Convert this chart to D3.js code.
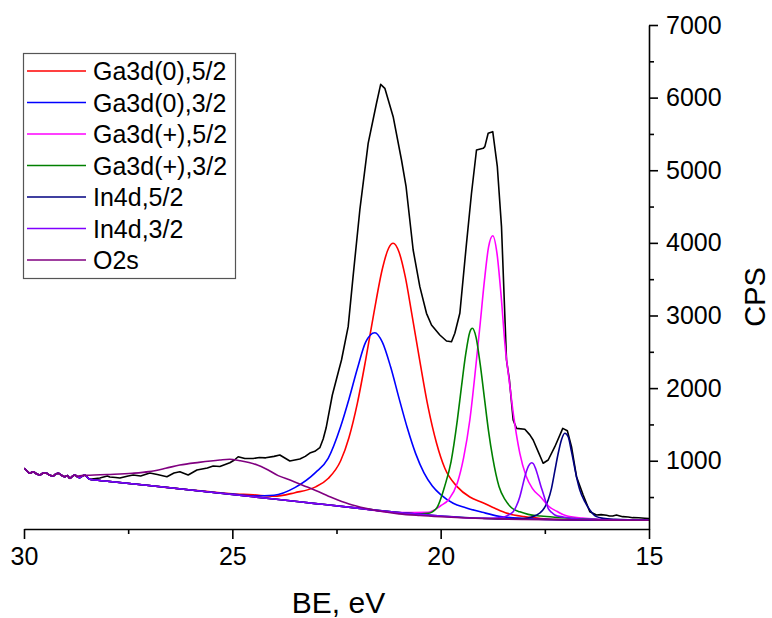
<!DOCTYPE html>
<html>
<head>
<meta charset="utf-8">
<script src="https://cdn.jsdelivr.net/npm/d3@7"></script>
<style>
  html, body { margin: 0; padding: 0; background: #fff; }
  svg { display: block; font-family: "Liberation Sans", Arial, sans-serif; }
</style>
</head>
<body>
<svg id="chart" width="772" height="618"></svg>
<script>
// ---------- data ----------
const xTicks = [30, 25, 20, 15];
const xMinorTicks = [27.5, 22.5, 17.5];
const yTicks = [1000, 2000, 3000, 4000, 5000, 6000, 7000];
const yMinorTicks = [500, 1500, 2500, 3500, 4500, 5500, 6500];

const seriesNames = ["Ga3d(0),5/2", "Ga3d(0),3/2", "Ga3d(+),5/2", "Ga3d(+),3/2", "In4d,5/2", "In4d,3/2", "O2s"];
const seriesColors = ["#ff0000", "#0000ff", "#ff00ff", "#008000", "#000080", "#8000ff", "#800080"];

// noisy lead-in shared by the measurement and all fitted curves
const leadBE  = [30.0, 29.93, 29.86, 29.78, 29.70, 29.62, 29.54, 29.46, 29.38, 29.30, 29.24, 29.18, 29.10, 29.02, 28.96, 28.90, 28.84, 28.78, 28.72, 28.66, 28.60, 28.54, 28.48, 28.42];
const leadCPS = [896, 860, 827, 849, 820, 804, 830, 827, 800, 790, 815, 827, 800, 780, 795, 758, 785, 804, 780, 767, 790, 804, 770, 744];

// background
const bgBE  = [28.0, 27, 26, 25, 24, 23, 22, 21, 20, 19, 18, 17, 16, 15];
const bgCPS = [718, 659, 597, 535, 473, 410, 347, 285, 240, 207, 192, 185, 182, 181];

// measured spectrum (black)
const dataBE = [28.18, 28.0, 27.94, 27.8, 27.7, 27.5, 27.38, 27.2, 26.98, 26.8,
  26.57, 26.4, 26.26, 26.06, 25.85, 25.6, 25.46, 25.3, 25.06, 24.95,
  24.86, 24.7, 24.5, 24.35, 24.2, 24.0, 23.86, 23.72, 23.62, 23.5,
  23.38, 23.25, 23.14, 23.02, 22.9, 22.82, 22.75, 22.6, 22.45, 22.38,
  22.22, 22.1, 21.94, 21.74, 21.54, 21.44, 21.34, 21.14, 20.94, 20.83,
  20.66, 20.5, 20.34, 20.22, 20.02, 19.86, 19.74, 19.66, 19.54, 19.38,
  19.26, 19.14, 18.98, 18.94, 18.86, 18.75, 18.64, 18.54, 18.42, 18.35,
  18.26, 18.18, 17.98, 17.86, 17.78, 17.66, 17.54, 17.42, 17.26, 17.07,
  16.96, 16.86, 16.74, 16.58, 16.42, 16.26, 16.15, 16.02, 15.95, 15.87,
  15.78, 15.7, 15.63, 15.5, 15.39, 15.25, 15.1, 15.0];
const dataCPS = [762, 790, 776, 770, 762, 790, 803, 790, 831, 810,
  780, 830, 849, 803, 872, 900, 927, 920, 973, 1010,
  1055, 1030, 1030, 1045, 1040, 1060, 1079, 1030, 996, 1010,
  1024, 1060, 1106, 1130, 1180, 1300, 1450, 1905, 2236, 2387,
  2846, 3550, 4453, 5371, 5922, 6183, 6128, 5737, 5141, 4773,
  3902, 3397, 3030, 2869, 2731, 2649, 2639, 2755, 3030, 3994,
  4683, 5279, 5302, 5325, 5509, 5531, 5049, 4223, 2387, 2112,
  1561, 1446, 1433, 1356, 1286, 1125, 965, 1010, 1193, 1446,
  1413, 1193, 780, 528, 298, 253, 258, 250, 240, 238,
  252, 240, 230, 226, 216, 214, 208, 205];

// fitted components (total counts incl. background, where they rise above it)
const ga0_52BE  = [25.0, 24.5, 24.0, 23.5, 23.0, 22.7, 22.4, 22.2, 22.0, 21.8, 21.6, 21.4, 21.25, 21.14, 21.0, 20.85, 20.7, 20.5, 20.3, 20.1, 19.9, 19.6, 19.3, 19.0, 18.7, 18.4, 18.0, 17.6, 17.0];
const ga0_52CPS = [545, 530, 510, 560, 640, 755, 1000, 1321, 1790, 2389, 3042, 3640, 3926, 3994, 3874, 3534, 3047, 2372, 1734, 1244, 896, 640, 500, 425, 345, 275, 230, 205, 188];

const ga0_32BE  = [25.5, 25.0, 24.5, 24.0, 23.5, 23.0, 22.7, 22.4, 22.2, 22.0, 21.8, 21.58, 21.4, 21.2, 21.0, 20.8, 20.6, 20.4, 20.2, 20.0, 19.7, 19.4, 19.0, 18.6, 18.0, 17.5, 17.0];
const ga0_32CPS = [566, 540, 515, 525, 630, 840, 1033, 1471, 1850, 2266, 2633, 2763, 2633, 2290, 1862, 1450, 1098, 833, 652, 533, 415, 354, 290, 235, 205, 192, 186];

const gaP_52BE  = [20.3, 20.0, 19.8, 19.6, 19.45, 19.3, 19.15, 19.05, 18.95, 18.85, 18.75, 18.65, 18.55, 18.45, 18.35, 18.25, 18.1, 17.95, 17.8, 17.6, 17.4, 17.2, 17.0, 16.6, 16.2, 15.6];
const gaP_52CPS = [290, 380, 470, 694, 1040, 1561, 2335, 2897, 3479, 3945, 4099, 3863, 3277, 2560, 2080, 1620, 1102, 790, 620, 500, 370, 300, 245, 210, 195, 185];

const gaP_32BE  = [20.6, 20.3, 20.1, 19.9, 19.75, 19.6, 19.5, 19.4, 19.3, 19.24, 19.15, 19.05, 18.95, 18.85, 18.75, 18.6, 18.45, 18.3, 18.1, 17.9, 17.6, 17.2, 16.8, 16.3];
const gaP_32CPS = [267, 275, 345, 654, 989, 1558, 2024, 2464, 2774, 2824, 2698, 2322, 1863, 1405, 1038, 645, 460, 353, 296, 261, 239, 220, 205, 192];

const in_52BE  = [18.4, 18.0, 17.82, 17.62, 17.5, 17.42, 17.34, 17.26, 17.18, 17.1, 17.02, 16.94, 16.86, 16.74, 16.66, 16.54, 16.42, 16.26, 16.10, 15.8, 15.4];
const in_52CPS = [198, 205, 225, 280, 360, 460, 620, 860, 1100, 1290, 1378, 1331, 1125, 780, 597, 436, 322, 230, 207, 192, 185];

const in_32BE  = [18.8, 18.6, 18.46, 18.35, 18.26, 18.18, 18.10, 18.04, 17.98, 17.92, 17.86, 17.82, 17.78, 17.72, 17.66, 17.6, 17.54, 17.48, 17.42, 17.34, 17.26, 17.06, 16.8, 16.4, 16.0];
const in_32CPS = [208, 215, 230, 260, 298, 380, 505, 640, 780, 890, 955, 973, 962, 890, 780, 660, 551, 440, 345, 290, 253, 225, 205, 192, 186];

const o2sBE  = [28.7, 28.42, 28.0, 27.4, 27.0, 26.6, 26.26, 25.8, 25.3, 25.06, 24.82, 24.6, 24.4, 24.2, 23.9, 23.6, 23.3, 23.0, 22.6, 22.2, 21.8, 21.4, 21.0, 20.5, 20.0, 19.5, 19.0, 18.0];
const o2sCPS = [790, 800, 810, 827, 850, 896, 941, 978, 1010, 1020, 1000, 975, 940, 890, 795, 730, 660, 590, 490, 405, 345, 300, 268, 245, 228, 214, 204, 192];

const componentBE  = [ga0_52BE, ga0_32BE, gaP_52BE, gaP_32BE, in_52BE, in_32BE, o2sBE];
const componentCPS = [ga0_52CPS, ga0_32CPS, gaP_52CPS, gaP_32CPS, in_52CPS, in_32CPS, o2sCPS];

// ---------- layout ----------
const svg = d3.select("#chart");
const mLeft = 24, mRight = 649, mTop = 25, mBottom = 529;

const x = d3.scaleLinear().domain([30, 15]).range([mLeft, mRight]);
const y = d3.scaleLinear().domain([60, 7000]).range([mBottom, mTop]);

const pairs = (bx, cy) => d3.zip(bx, cy);
const lead = pairs(leadBE, leadCPS);
const bg = pairs(bgBE, bgCPS);

function componentPoints(bx, cy) {
  const hi = bx[0], lo = bx[bx.length - 1];
  return lead.filter(p => p[0] > hi)
    .concat(bg.filter(p => p[0] > hi))
    .concat(pairs(bx, cy))
    .concat(bg.filter(p => p[0] < lo));
}

svg.append("defs").append("clipPath").attr("id", "plotClip")
  .append("rect").attr("x", mLeft).attr("y", mTop - 2).attr("width", mRight - mLeft).attr("height", mBottom - mTop + 2);

const plot = svg.append("g").attr("clip-path", "url(#plotClip)");

const lineLinear = d3.line().x(d => x(d[0])).y(d => y(d[1]));
const lineSmooth = d3.line().x(d => x(d[0])).y(d => y(d[1])).curve(d3.curveMonotoneX);

// measured spectrum
plot.append("path")
  .datum(lead.concat(pairs(dataBE, dataCPS)))
  .attr("fill", "none").attr("stroke", "#000").attr("stroke-width", 1.6)
  .attr("stroke-linejoin", "round")
  .attr("d", lineLinear);

// components
componentBE.forEach((bx, i) => {
  plot.append("path")
    .datum(componentPoints(bx, componentCPS[i]))
    .attr("fill", "none").attr("stroke", seriesColors[i]).attr("stroke-width", 1.6)
    .attr("stroke-linejoin", "round")
    .attr("d", lineSmooth);
});

// ---------- axes ----------
const xAxis = d3.axisBottom(x).tickValues(xTicks).tickSize(10).tickPadding(5).tickSizeOuter(0).tickFormat(d3.format("d"));
const gx = svg.append("g").attr("transform", `translate(0,${mBottom})`).call(xAxis);
gx.selectAll("text").attr("font-size", 25).attr("fill", "#000")
  .attr("dy", null).attr("y", 36);
gx.select(".domain").attr("stroke-width", 1.6);
gx.selectAll(".tick line").attr("stroke-width", 1.6);
const xMinor = d3.axisBottom(x).tickValues(xMinorTicks).tickSize(5).tickFormat("");
const gxm = svg.append("g").attr("transform", `translate(0,${mBottom})`).call(xMinor);
gxm.select(".domain").remove();
gxm.selectAll(".tick line").attr("stroke-width", 1.6);

const yAxis = d3.axisRight(y).tickValues(yTicks).tickSize(9).tickPadding(8).tickSizeOuter(0).tickFormat(d3.format("d"));
const gy = svg.append("g").attr("transform", `translate(${mRight},0)`).call(yAxis);
gy.selectAll("text").attr("font-size", 25).attr("fill", "#000");
gy.select(".domain").attr("stroke-width", 1.6);
gy.selectAll(".tick line").attr("stroke-width", 1.6);
const yMinor = d3.axisRight(y).tickValues(yMinorTicks).tickSize(5).tickFormat("");
const gym = svg.append("g").attr("transform", `translate(${mRight},0)`).call(yMinor);
gym.select(".domain").remove();
gym.selectAll(".tick line").attr("stroke-width", 1.6);

// axis titles
svg.append("text").attr("x", (mLeft + mRight) / 2 + 2).attr("y", 613)
  .attr("text-anchor", "middle").attr("font-size", 30).attr("fill", "#000").text("BE, eV");
svg.append("text").attr("transform", `translate(765,${(mTop + mBottom) / 2 + 20}) rotate(-90)`)
  .attr("text-anchor", "middle").attr("font-size", 29).attr("fill", "#000").text("CPS");

// ---------- legend ----------
const lg = svg.append("g");
lg.append("rect").attr("x", 23.5).attr("y", 53.5).attr("width", 212).attr("height", 225)
  .attr("fill", "#fff").attr("stroke", "#555").attr("stroke-width", 1.2);
seriesNames.forEach((name, i) => {
  const cy = 71 + i * 31.5;
  lg.append("line").attr("x1", 27).attr("x2", 86).attr("y1", cy).attr("y2", cy)
    .attr("stroke", seriesColors[i]).attr("stroke-width", 1.6);
  lg.append("text").attr("x", 93).attr("y", cy + 9).attr("font-size", 25).attr("fill", "#000").text(name);
});
</script>
</body>
</html>
